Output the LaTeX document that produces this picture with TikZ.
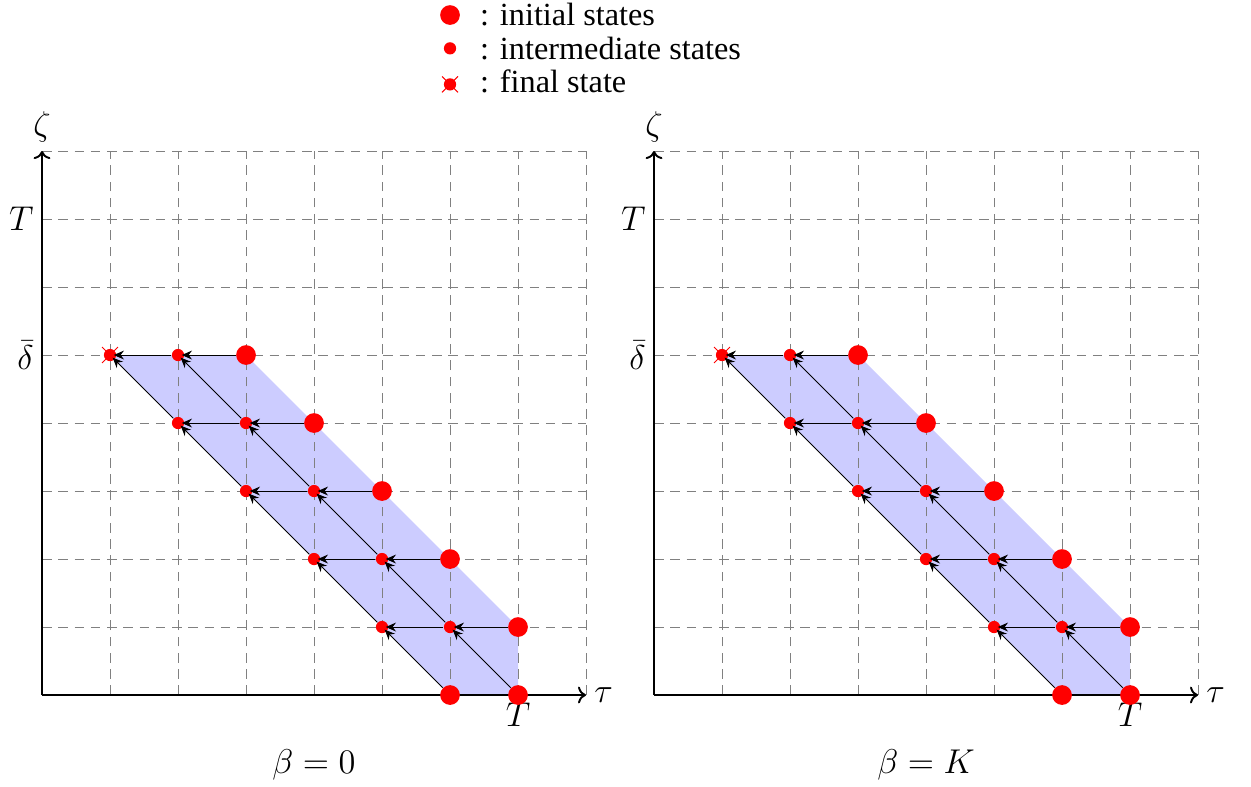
\documentclass[tikz,border=0pt]{standalone}
\usepackage{amsmath,amssymb}
\usepackage{fontspec}
\setmainfont{Liberation Serif}
\usepackage{tikz}
\usetikzlibrary{arrows.meta,positioning,shapes.misc}

\begin{document}
\begin{tikzpicture}[
  font=\fontsize{13.5}{16}\selectfont,
  axis/.style={->, thick},
  gridline/.style={gray, dash pattern=on 4pt off 2.8pt},
  region/.style={fill=blue!20},
  bigdot/.style={circle, fill=red, inner sep=0pt, minimum size=2.9mm},
  smalldot/.style={circle, fill=red, inner sep=0pt, minimum size=1.8mm},
  crossmark/.style={cross out, draw=red, thin, inner sep=0pt, minimum size=2.2mm},
  arrow/.style={-{Stealth[length=1.5mm,width=1.3mm]}, thin, shorten >=-1.2pt}
]
  \useasboundingbox (-0.618,-1.338) rectangle (17.779,10.221);

  % legend
  \node[bigdot] (leginit) at (6,10) {};
  \node[smalldot] (legmid) at (6,9.51) {};
  \node[smalldot] (legfin) at (6,8.98) {};
  \node[crossmark] (legcross) at (legfin) {};
  \node[anchor=west] (txtinit) at (6.32,10) {: initial states};
  \node[anchor=west] (txtmid) at (6.32,9.51) {: intermediate states};
  \node[anchor=west] (txtfin) at (6.32,9.02) {: final state};

  \foreach \p/\lab in {0/0, 9/K} {
    \begin{scope}[xshift=\p cm]
      \fill[region] (1,5) -- (3,5) -- (7,1) -- (7,0) -- (6,0) -- cycle;
      \foreach \i in {1,...,8} {
        \draw[gridline] (\i,0) -- (\i,8);
        \draw[gridline] (0,\i) -- (8,\i);
      }
      % axes
      \coordinate (o\p) at (0,0);
      \coordinate (xe\p) at (8,0);
      \coordinate (ye\p) at (0,8);
      \draw[axis] (o\p) -- (xe\p);
      \draw[axis] (o\p) -- (ye\p);
      \node[right] (tau\p) at (xe\p) {$\tau$};
      \node[above] (zeta\p) at (ye\p) {$\zeta$};
      \node[below] (tx\p) at (7,0) {$T$};
      \node[left] (ty\p) at (0,7) {$T$};
      \node[left] (dy\p) at (0,5) {$\bar{\delta}$};
      \node (cap\p) at (4,-1.03) {$\beta=\lab$};

      % states
      \foreach \x/\y in {3/5,4/4,5/3,6/2,7/1,6/0,7/0}
        \node[bigdot] (s\p-\x-\y) at (\x,\y) {};
      \foreach \x/\y in {1/5,2/5,2/4,3/4,3/3,4/3,4/2,5/2,5/1,6/1}
        \node[smalldot] (s\p-\x-\y) at (\x,\y) {};
      \node[crossmark] (fin\p) at (1,5) {};

      % transitions
      \foreach \y in {1,...,5} {
        \pgfmathtruncatemacro\xa{8-\y}
        \pgfmathtruncatemacro\xb{7-\y}
        \pgfmathtruncatemacro\xc{6-\y}
        \pgfmathtruncatemacro\ym{\y-1}
        \draw[arrow] (s\p-\xa-\y) -- (s\p-\xb-\y);
        \draw[arrow] (s\p-\xb-\y) -- (s\p-\xc-\y);
        \draw[arrow] (s\p-\xb-\ym) -- (s\p-\xc-\y);
        \draw[arrow] (s\p-\xa-\ym) -- (s\p-\xb-\y);
      }
    \end{scope}
  }
\end{tikzpicture}
\end{document}
